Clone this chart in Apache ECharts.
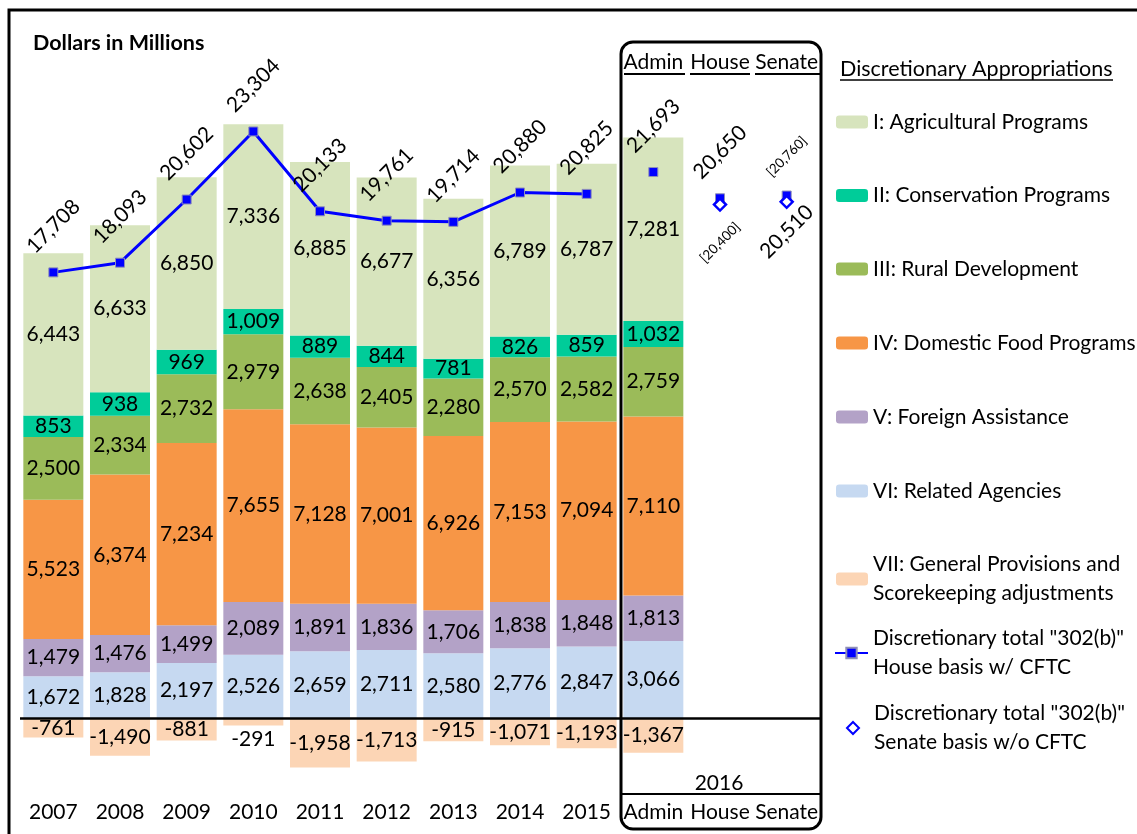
<!DOCTYPE html>
<html>
<head>
<meta charset="utf-8">
<script src="https://cdn.jsdelivr.net/npm/echarts@6/dist/echarts.min.js"></script>
<style>
html,body{margin:0;padding:0;background:#fff;}
#c{width:1137px;height:834px;}
</style>
</head>
<body>
<div id="c"></div>
<script>
const FONT = 'Lato';

// ---- Data ----
const categories = ['2007','2008','2009','2010','2011','2012','2013','2014','2015','Admin','House','Senate'];
const agricultural = [6443, 6633, 6850, 7336, 6885, 6677, 6356, 6789, 6787, 7281, null, null];
const conservation = [853, 938, 969, 1009, 889, 844, 781, 826, 859, 1032, null, null];
const rural        = [2500, 2334, 2732, 2979, 2638, 2405, 2280, 2570, 2582, 2759, null, null];
const domesticFood = [5523, 6374, 7234, 7655, 7128, 7001, 6926, 7153, 7094, 7110, null, null];
const foreign      = [1479, 1476, 1499, 2089, 1891, 1836, 1706, 1838, 1848, 1813, null, null];
const related      = [1672, 1828, 2197, 2526, 2659, 2711, 2580, 2776, 2847, 3066, null, null];
const general      = [-761, -1490, -881, -291, -1958, -1713, -915, -1071, -1193, -1367, null, null];
const houseTotalHist = [17708, 18093, 20602, 23304, 20133, 19761, 19714, 20880, 20825, null, null, null];
const houseTotal2016 = [null, null, null, null, null, null, null, null, null, 21693, 20650, 20760];
const senateTotal2016 = [null, null, null, null, null, null, null, null, null, null, 20400, 20510];

const N_AG = 'I: Agricultural Programs';
const N_CO = 'II: Conservation Programs';
const N_RU = 'III: Rural Development';
const N_DF = 'IV: Domestic Food Programs';
const N_FA = 'V: Foreign Assistance';
const N_RA = 'VI: Related Agencies';
const N_GP = 'VII: General Provisions and Scorekeeping adjustments';
const N_HL = 'Discretionary total "302(b)" House basis w/ CFTC';
const N_SL = 'Discretionary total "302(b)" Senate basis w/o CFTC';

const C = {
  ag:'#D7E4BD', co:'#00CC99', ru:'#9BBB59', df:'#F79646', fa:'#B3A2C7', ra:'#C6D9F1', gp:'#FCD5B5', blue:'#0000FF'
};

function fmt(v){
  const s = Math.abs(v).toString().replace(/\B(?=(\d{3})+(?!\d))/g, ',');
  return (v < 0 ? '-' : '') + s;
}
const dash = arr => arr.map(v => v == null ? '-' : v);

const LBL = 21;

function barSeries(name, data, color, extra){
  const s = {
    name, type:'bar', stack:'total', barCategoryGap:'10%',
    data: dash(data),
    itemStyle:{color},
    label:{show:true, position:'inside', color:'#000', fontFamily:FONT, fontSize:LBL,
      textBorderWidth:0, textBorderColor:'transparent',
      formatter: p => fmt(p.value)},
    emphasis:{disabled:true}
  };
  return Object.assign(s, extra || {});
}

const generalData = general.map(v => {
  if (v == null) return '-';
  if (v === -291) return {value:v, label:{position:'bottom', distance:3}};
  return v;
});

const rotLabel = {
  show:true, position:'inside', rotate:45, offset:[32.5,-32.5],
  color:'#000', fontFamily:FONT, fontSize:LBL, textBorderWidth:0, textBorderColor:'transparent',
  formatter: p => fmt(p.value)
};

const sq2016 = houseTotal2016.map((v,i) => {
  if (v == null) return '-';
  if (categories[i] === 'Senate') return {value:v, label:{formatter:'[' + fmt(v) + ']', fontSize:13.5, offset:[27.6,-27.6]}};
  return v;
});
const dia2016 = senateTotal2016.map((v,i) => {
  if (v == null) return '-';
  if (categories[i] === 'House') return {value:v, label:{formatter:'[' + fmt(v) + ']', fontSize:13.5, offset:[-26.9,26.9]}};
  return {value:v, label:{offset:[-21.2,21.2]}};
});

const series = [
  barSeries(N_RA, related, C.ra, {
    markLine:{silent:true, symbol:'none', label:{show:false},
      lineStyle:{color:'#000', width:2.5, type:'solid'}, data:[{yAxis:0}], animation:false}
  }),
  barSeries(N_FA, foreign, C.fa),
  barSeries(N_DF, domesticFood, C.df),
  barSeries(N_RU, rural, C.ru),
  barSeries(N_CO, conservation, C.co),
  barSeries(N_AG, agricultural, C.ag),
  Object.assign(barSeries(N_GP, general, C.gp), {data: generalData}),
  {
    name:N_HL, type:'line', data: dash(houseTotalHist), symbol:'rect', symbolSize:9,
    lineStyle:{color:C.blue, width:3}, itemStyle:{color:C.blue, borderColor:'#8f8fb8', borderWidth:1, opacity:1},
    label: rotLabel, z:5, emphasis:{disabled:true}
  },
  {
    name:N_HL, type:'scatter', data: sq2016, symbol:'rect', symbolSize:9,
    itemStyle:{color:C.blue, borderColor:'#8f8fb8', borderWidth:1, opacity:1},
    label: rotLabel, z:5, emphasis:{disabled:true}
  },
  {
    name:N_SL, type:'scatter', data: dia2016, symbol:'diamond', symbolSize:12,
    itemStyle:{color:'#fff', borderColor:C.blue, borderWidth:2.5, opacity:1},
    label: Object.assign({}, rotLabel, {offset:[-26.9,26.9]}), z:6, emphasis:{disabled:true}
  }
];

// legend: one component per entry, placed by icon centre
const legendDefs = [
  [N_AG, 122, null],
  [N_CO, 195.5, null],
  [N_RU, 269, null],
  [N_DF, 343, null],
  [N_FA, 417, null],
  [N_RA, 491, null],
  [N_GP, 564, 'VII: General Provisions and\nScorekeeping adjustments'],
  [N_HL, 638, 'Discretionary total "302(b)"\nHouse basis w/ CFTC'],
  [N_SL, 713, 'Discretionary total "302(b)"\nSenate basis w/o CFTC']
];
const legends = legendDefs.map(([name, c, two]) => {
  const isLine = name === N_HL;
  const isDia = name === N_SL;
  const item = isDia ? {name, icon:'path://M0,-1L1,0L0,1L-1,0Z'} : name;
  return {
    data:[item], orient:'vertical', left: isLine ? 834 : (isDia ? 846 : 836),
    top: two ? c - 28.5 : c - 12, padding:0, itemGap:0,
    itemWidth: isLine ? 33 : 32, itemHeight: isDia ? 12 : 13,
    symbolKeepAspect:true,
    formatter: two ? two : '{name}',
    textStyle:{fontFamily:FONT, fontSize:LBL, color:'#000',
      lineHeight: two ? 29 : 24, padding: two ? [29,0,0,0] : 0}
  };
});

const option = {
  animation:false,
  textStyle:{fontFamily:FONT},
  grid:{left:20, right:317, top:38.4, bottom:40.2, containLabel:false},
  xAxis:[
    {type:'category', data:categories, position:'bottom',
      axisLine:{show:false, onZero:false}, axisTick:{show:false},
      axisLabel:{color:'#000', fontFamily:FONT, fontSize:LBL, margin:8, interval:0}},
    {type:'category', data:categories, position:'top',
      axisLine:{show:false, onZero:false}, axisTick:{show:false},
      axisLabel:{inside:true, color:'#000', fontFamily:FONT, fontSize:LBL, margin:13, interval:0,
        formatter: v => (v === 'Admin' || v === 'House' || v === 'Senate') ? v : ''}}
  ],
  yAxis:{type:'value', min:-3000, max:27000, show:false, splitLine:{show:false}},
  legend: legends,
  series,
  graphic:[
    {type:'rect', shape:{x:9, y:10, width:1300, height:1000}, style:{fill:'none', stroke:'#000', lineWidth:3}, silent:true, z:100},
    {type:'rect', shape:{x:621, y:42, width:200, height:787, r:12}, style:{fill:'none', stroke:'#000', lineWidth:3}, silent:true, z:100},
    {type:'line', shape:{x1:621, y1:794, x2:821, y2:794}, style:{stroke:'#000', lineWidth:2}, silent:true, z:100},
    {type:'text', style:{text:'2016', x:719, y:783, align:'center', verticalAlign:'middle', fontFamily:FONT, fontSize:LBL, fill:'#000'}, silent:true, z:100},
    {type:'text', style:{text:'Dollars in Millions', x:33, y:43, align:'left', verticalAlign:'middle', fontFamily:FONT, fontSize:21.5, fontWeight:'bold', fill:'#000'}, silent:true, z:100},
    {type:'text', style:{text:'Discretionary Appropriations', x:840, y:69, align:'left', verticalAlign:'middle', fontFamily:FONT, fontSize:21.5, fill:'#000'}, silent:true, z:100},
    {type:'line', shape:{x1:840, y1:80, x2:1113, y2:80}, style:{stroke:'#000', lineWidth:1.5}, silent:true, z:100},
    {type:'line', shape:{x1:624, y1:74, x2:685, y2:74}, style:{stroke:'#000', lineWidth:2}, silent:true, z:100},
    {type:'line', shape:{x1:690, y1:74, x2:750, y2:74}, style:{stroke:'#000', lineWidth:2}, silent:true, z:100},
    {type:'line', shape:{x1:755, y1:74, x2:820, y2:74}, style:{stroke:'#000', lineWidth:2}, silent:true, z:100}
  ]
};

const chart = echarts.init(document.getElementById('c'));
chart.setOption(option);
</script>
</body>
</html>
